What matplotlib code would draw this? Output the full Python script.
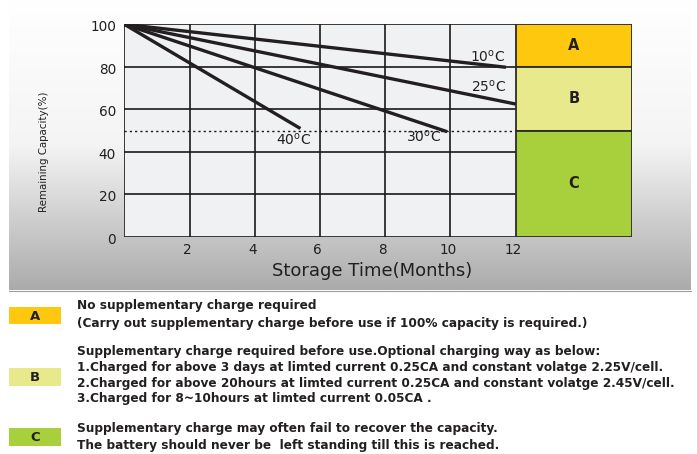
import numpy as np
import matplotlib
matplotlib.use("Agg")
import matplotlib.pyplot as plt
from matplotlib.patches import Rectangle
from matplotlib.transforms import ScaledTranslation

plt.rcParams['font.family'] = ['DejaVu Sans']
plt.rcParams['mathtext.fontset'] = 'dejavusans'

# ---------------- data ----------------
months_10 = [0, 11.7]
cap_10 = [100, 79.8]
months_25 = [0, 12]
cap_25 = [100, 62.5]
months_30 = [0, 9.9]
cap_30 = [100, 49.5]
months_40 = [0, 5.4]
cap_40 = [100, 51]
curve_labels = ["10", "25", "30", "40"]
x_ticks = [2, 4, 6, 8, 10, 12]
y_ticks = [0, 20, 40, 60, 80, 100]
threshold = 50
zone_names = ["A", "B", "C"]
zone_lower = [80, 50, 0]
zone_upper = [100, 80, 50]
zone_colors = ["#fdc80e", "#e8e98b", "#a8cf3c"]
legend_texts = [
    ["No supplementary charge required",
     "(Carry out supplementary charge before use if 100% capacity is required.)"],
    ["Supplementary charge required before use.Optional charging way as below:",
     "1.Charged for above 3 days at limted current 0.25CA and constant volatge 2.25V/cell.",
     "2.Charged for above 20hours at limted current 0.25CA and constant volatge 2.45V/cell.",
     "3.Charged for 8~10hours at limted current 0.05CA ."],
    ["Supplementary charge may often fail to recover the capacity.",
     "The battery should never be  left standing till this is reached."],
]

W, H = 697, 454
fig = plt.figure(figsize=(W / 100, H / 100), dpi=100)
fig.patch.set_facecolor("white")

# background / pixel-coordinate axes
bg = fig.add_axes([0, 0, 1, 1], zorder=0)
bg.set_xlim(0, W)
bg.set_ylim(H, 0)
bg.axis("off")
grad = np.linspace(0, 1, 256).reshape(-1, 1)
cmap = matplotlib.colors.LinearSegmentedColormap.from_list("g", ["#ffffff", "#f4f4f4", "#ababab"])
bg.imshow(grad, cmap=cmap, aspect="auto", extent=(9, 691, 290, 0), zorder=0)
bg.plot([9, 691], [290.5, 290.5], color="#a0a0a0", lw=0.8)

# main axes (includes zone boxes to the right)
x0p, x12p = 124.3, 515.7
pxm = (x12p - x0p) / 12
xmax = (631.7 - x0p) / pxm
y100p, y0p = 24.3, 237.0
ax = fig.add_axes([x0p / W, 1 - y0p / H, (631.7 - x0p) / W, (y0p - y100p) / H], zorder=2)
ax.set_xlim(0, xmax)
ax.set_ylim(0, 100)
ax.set_facecolor("none")
ax.add_patch(Rectangle((0, 0), 12, 100, facecolor="#f0f1f3", edgecolor="none", zorder=0))
for s in ax.spines.values():
    s.set_visible(False)

gc = "#1a1a1a"
glw = 1.2
for xv in x_ticks[:-1]:
    ax.plot([xv, xv], [0, 100], color=gc, lw=glw, zorder=1)
for yv in y_ticks[1:]:
    ax.plot([0, 12], [yv, yv], color=gc, lw=glw, zorder=1)
ax.plot([0, 0], [0, 100], color=gc, lw=glw, zorder=1)
ax.plot([0, xmax], [0, 0], color=gc, lw=glw, zorder=1)
ax.plot([0, 12], [threshold, threshold], color=gc, lw=1.0, ls=(0, (1.6, 2.2)), zorder=1)

for name, lo, hi, col in zip(zone_names, zone_lower, zone_upper, zone_colors):
    ax.add_patch(Rectangle((12, lo), xmax - 12, hi - lo, facecolor=col,
                           edgecolor="#2b2b2b", lw=1.3, zorder=2))
    ax.text((12 + xmax) / 2, (lo + hi) / 2, name, ha="center", va="center",
            fontsize=10.5, fontweight="bold", color="#231f20", zorder=3)

lc = "#231f20"
for xs, ys in [(months_10, cap_10), (months_25, cap_25), (months_30, cap_30), (months_40, cap_40)]:
    ax.plot(xs, ys, color=lc, lw=2.4, solid_capstyle="butt", zorder=3)

label_pos = [(11.15, 84.8), (11.16, 70.6), (9.17, 47.0), (5.19, 45.8)]
for t, (lx, ly) in zip(curve_labels, label_pos):
    ax.text(lx, ly, t + r"$^{\mathrm{o}}$C", ha="center", va="center", fontsize=10,
            color="#231f20", zorder=4)

ax.set_xticks(x_ticks)
ax.set_xticklabels([str(v) for v in x_ticks])
ax.set_yticks(y_ticks)
ax.set_yticklabels([str(v) for v in y_ticks])
ax.tick_params(axis="both", length=0, labelsize=9.8, colors="#231f20")
ax.tick_params(axis="x", pad=4.2)
ax.tick_params(axis="y", pad=6)
for lab in ax.get_yticklabels():
    lab.set_transform(lab.get_transform() + ScaledTranslation(0, -0.015, fig.dpi_scale_trans))
for lab in ax.get_xticklabels():
    lab.set_transform(lab.get_transform() + ScaledTranslation(-0.025, 0, fig.dpi_scale_trans))

bg.text(372, 271, "Storage Time(Months)", ha="center", va="center", fontsize=13, color="#231f20")
bg.text(44, 152, "Remaining Capacity(%)", ha="center", va="center", rotation=90,
        fontsize=7.4, color="#231f20")

# legend
box_y = [(307, 324), (368, 386), (428, 446)]
line_y = [[306, 323], [352, 367.5, 383, 398.5], [428.5, 445]]
for name, col, (b0, b1), texts, ys in zip(zone_names, zone_colors, box_y, legend_texts, line_y):
    bg.add_patch(Rectangle((9, b0), 52, b1 - b0, facecolor=col, edgecolor="none", zorder=2))
    bg.text(35, (b0 + b1) / 2 + 0.5, name, ha="center", va="center", fontsize=9.5,
            fontweight="bold", color="#231f20", zorder=3)
    for t, yy in zip(texts, ys):
        bg.text(77, yy, t, ha="left", va="center", fontsize=8.7, fontweight="bold",
                color="#231f20", zorder=3)

fig.savefig("out.png", dpi=100)
